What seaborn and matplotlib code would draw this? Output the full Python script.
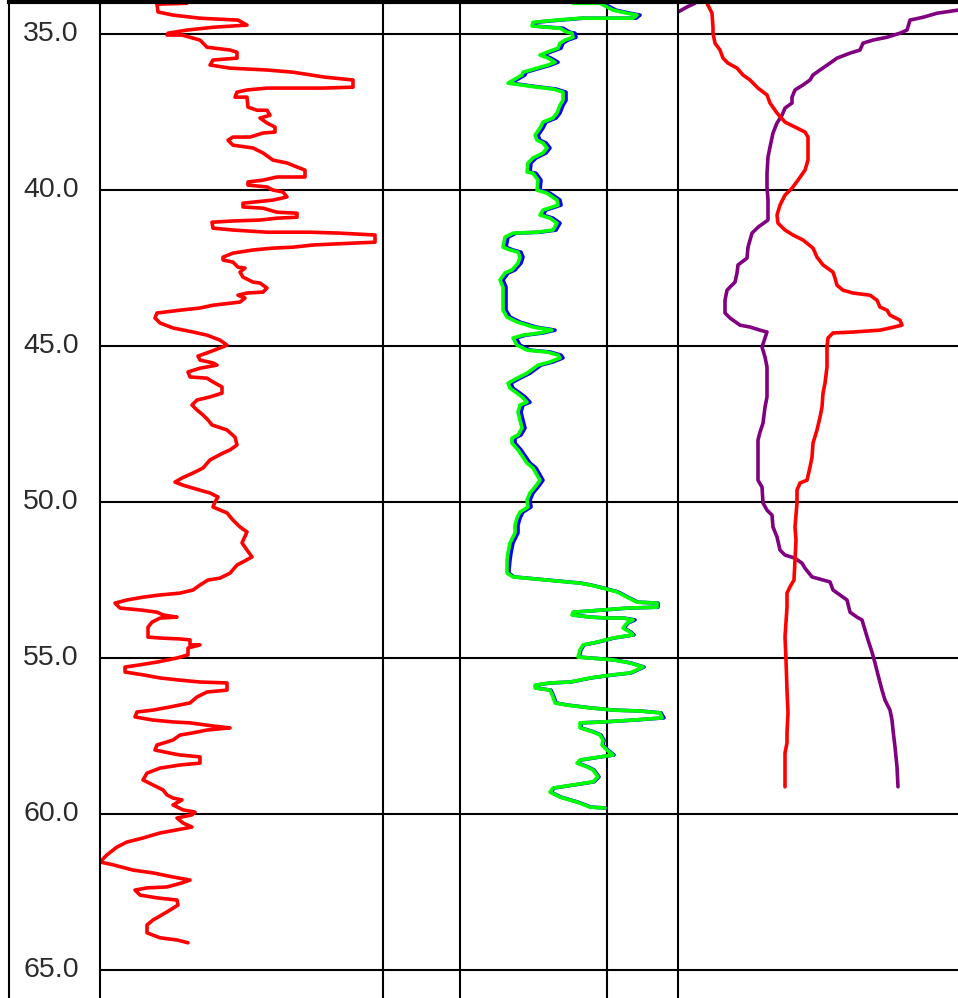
import matplotlib
matplotlib.use("Agg")
import matplotlib.pyplot as plt
import seaborn as sns
import pandas as pd

sns.set_style("white")
plt.rcParams['font.family'] = ['Liberation Sans', 'DejaVu Sans']

# ---------------- data ----------------
depth_ticks = [35.0, 40.0, 45.0, 50.0, 55.0, 60.0, 65.0]

# Track 1 : red curve
gr_depth = [34.01,34.04,34.29,34.39,34.49,34.55,34.71,34.78,34.87,34.97,
            35.03,35.03,35.19,35.42,35.51,35.58,35.77,35.83,35.99,36.09,
            36.15,36.22,36.38,36.47,36.70,36.73,36.73,36.79,36.86,37.02,
            37.02,37.34,37.44,37.44,37.60,37.69,37.85,37.98,38.14,38.17,
            38.30,38.30,38.40,38.56,38.65,38.81,39.04,39.13,39.26,39.36,
            39.58,39.58,39.68,39.74,39.84,39.90,40.00,40.06,40.22,40.32,
            40.38,40.42,40.54,40.58,40.71,40.74,40.87,40.90,40.96,40.99,
            41.03,41.22,41.28,41.35,41.35,41.38,41.44,41.67,41.70,41.76,
            41.83,41.86,41.92,42.02,42.15,42.24,42.31,42.47,42.50,42.63,
            42.79,42.95,42.98,43.14,43.27,43.30,43.37,43.46,43.59,43.69,
            43.78,43.85,43.94,44.10,44.26,44.42,44.55,44.65,44.81,44.97,
            45.06,45.22,45.32,45.45,45.54,45.61,45.71,45.83,45.99,46.03,
            46.15,46.31,46.51,46.63,46.73,46.89,47.05,47.21,47.37,47.53,
            47.69,47.92,48.17,48.33,48.43,48.65,48.91,49.07,49.23,49.36,
            49.46,49.62,49.71,49.84,50.00,50.16,50.35,50.58,50.80,50.96,
            51.31,51.54,51.76,51.92,52.02,52.28,52.44,52.50,52.66,52.82,
            52.92,52.98,53.05,53.14,53.24,53.40,53.46,53.53,53.62,53.69,
            53.72,53.85,54.01,54.33,54.36,54.39,54.42,54.58,54.58,54.68,
            54.90,55.00,55.13,55.22,55.29,55.45,55.54,55.64,55.71,55.77,
            55.80,56.03,56.09,56.25,56.44,56.57,56.67,56.73,56.89,56.99,
            57.05,57.08,57.18,57.24,57.31,57.40,57.47,57.63,57.79,57.95,
            58.05,58.11,58.17,58.37,58.43,58.53,58.69,58.91,59.07,59.23,
            59.39,59.49,59.55,59.71,59.87,59.94,60.03,60.13,60.29,60.42,
            60.51,60.61,60.77,60.90,61.06,61.31,61.54,61.63,61.80,61.89,
            62.02,62.12,62.21,62.34,62.37,62.44,62.60,62.69,62.76,62.92,
            63.14,63.40,63.56,63.81,63.97,64.04,64.13]
gr_value = [87,57,58,73,100,138,147,113,87,68,
            67,82,100,107,130,137,137,113,110,130,
            167,193,225,253,253,223,167,147,137,135,
            147,148,157,167,170,160,167,175,175,163,
            150,133,128,133,153,163,173,187,197,205,
            205,177,163,148,148,167,173,183,187,173,
            155,143,143,163,177,197,197,177,160,133,
            112,113,133,167,210,240,275,275,253,213,
            193,173,153,133,123,123,133,138,145,140,
            143,153,160,167,163,147,138,145,140,113,
            100,80,57,55,60,73,93,107,120,127,
            120,107,98,100,113,117,100,88,90,107,
            113,122,122,110,97,92,97,103,108,112,
            127,135,137,130,123,110,103,93,82,75,
            83,100,110,118,115,113,127,133,140,147,
            142,147,152,143,137,130,120,108,100,93,
            80,60,43,27,15,20,40,57,63,77,
            60,52,48,48,60,80,90,90,100,88,
            88,77,57,40,25,25,43,60,80,100,
            127,127,107,97,90,70,53,37,35,53,
            73,90,113,130,107,93,80,73,57,55,
            70,80,100,100,80,60,47,43,53,63,
            67,73,82,73,83,95,92,77,83,92,
            77,60,43,27,17,7,0,13,33,53,
            73,90,82,67,47,35,40,57,77,78,
            67,53,47,47,60,77,88]

# Track 2 : blue and green curves
t2_depth = [34.01,34.01,34.13,34.23,34.33,34.39,34.49,34.49,34.49,34.55,
            34.62,34.74,34.78,34.81,34.94,34.97,35.10,35.19,35.29,35.45,
            35.58,35.67,35.77,35.90,35.99,36.09,36.22,36.31,36.57,36.67,
            36.76,36.86,37.12,37.28,37.53,37.69,37.82,38.01,38.24,38.40,
            38.49,38.65,38.81,38.97,39.13,39.42,39.46,39.68,40.00,40.10,
            40.32,40.48,40.64,40.80,40.90,41.06,41.28,41.35,41.38,41.51,
            41.83,41.92,41.99,42.15,42.34,42.56,42.66,42.88,43.11,43.43,
            43.85,44.07,44.23,44.39,44.49,44.58,44.65,44.74,44.97,45.13,
            45.19,45.29,45.38,45.51,45.61,45.87,46.03,46.19,46.35,46.51,
            46.63,46.80,46.89,47.12,47.37,47.63,47.85,47.95,48.11,48.33,
            48.56,48.75,48.91,49.30,49.52,49.71,49.94,50.16,50.32,50.51,
            50.74,50.99,51.31,51.63,51.86,52.18,52.28,52.40,52.50,52.56,
            52.60,52.66,52.76,52.88,53.05,53.21,53.24,53.37,53.40,53.46,
            53.53,53.62,53.69,53.72,53.72,53.78,53.88,54.04,54.17,54.26,
            54.36,54.49,54.58,54.74,54.97,55.00,55.06,55.16,55.29,55.48,
            55.54,55.64,55.77,55.80,55.87,55.96,56.03,56.25,56.44,56.51,
            56.60,56.67,56.70,56.76,56.92,56.99,57.05,57.08,57.24,57.37,
            57.47,57.63,57.79,57.95,58.11,58.17,58.27,58.37,58.49,58.59,
            58.81,58.97,59.07,59.17,59.30,59.46,59.62,59.78,59.81]
green_value = [190,217,224,230,244,254,250,224,197,174,
               150,149,164,177,184,189,190,182,177,175,
               164,157,165,172,165,154,140,139,125,147,
               170,180,180,177,174,170,160,157,152,154,
               160,164,160,150,145,144,150,155,154,164,
               174,175,160,157,167,174,170,154,130,122,
               120,127,135,137,135,129,122,117,120,120,
               120,124,134,150,169,157,140,130,134,144,
               164,175,177,167,155,144,134,125,127,134,
               139,144,137,135,137,139,135,129,129,135,
               140,144,150,157,152,147,144,145,137,134,
               132,132,127,125,124,124,124,130,164,184,
               197,207,220,234,244,254,274,274,244,220,
               190,189,207,224,240,250,244,240,247,250,
               230,214,200,197,195,207,230,247,260,247,
               230,207,187,167,152,152,167,170,172,184,
               207,230,257,277,279,250,220,197,197,210,
               217,220,219,224,230,217,197,194,204,210,
               215,210,190,170,167,177,194,207,222]
blue_value = [192,220,227,233,247,257,253,227,200,177,
              153,152,167,180,187,192,193,185,180,178,
              167,160,168,175,168,157,143,142,128,150,
              173,183,183,180,177,173,163,160,155,157,
              163,167,163,153,148,147,153,158,157,167,
              177,178,163,160,170,177,173,157,133,125,
              123,130,138,140,138,132,125,120,123,123,
              123,127,137,153,172,160,143,133,137,147,
              167,178,180,170,158,147,137,128,130,137,
              142,147,140,138,140,142,138,132,132,138,
              143,147,153,160,155,150,147,148,140,137,
              135,135,130,128,127,126,126,131,165,185,
              198,208,221,235,245,255,275,275,245,221,
              191,190,208,225,241,252,245,241,248,251,
              231,215,201,198,196,208,231,248,261,248,
              231,208,188,168,153,153,168,171,173,185,
              208,231,258,278,281,251,221,198,198,211,
              218,221,220,225,231,218,198,195,205,211,
              216,211,191,171,168,178,195,208,223]

# Track 3 : red and purple curves
res_depth = [34.01,34.33,34.78,34.97,35.29,35.51,35.77,35.93,36.09,36.31,
             36.47,36.73,36.95,37.21,37.53,37.82,38.01,38.14,38.30,39.04,
             39.36,39.68,39.94,40.16,40.48,40.80,41.06,41.28,41.44,41.60,
             41.86,42.15,42.40,42.63,42.82,43.05,43.21,43.30,43.37,43.53,
             43.75,43.85,44.01,44.17,44.33,44.42,44.49,44.55,44.58,44.74,
             45.03,45.67,46.19,46.51,46.96,47.28,47.69,48.11,48.56,48.88,
             49.30,49.39,49.62,50.03,50.80,51.22,51.86,52.50,52.72,52.92,
             53.37,54.33,55.06,56.03,56.76,57.40,57.72,58.05,59.13]
res_value = [29,34,35,35,37,42,45,50,59,65,
             72,80,89,92,99,107,119,127,130,130,
             127,120,114,107,102,99,100,107,115,125,
             135,139,145,155,157,159,165,175,192,199,
             202,209,212,222,224,212,202,175,155,150,
             149,149,147,145,144,142,139,135,134,132,
             129,122,119,119,117,118,117,116,112,109,
             109,107,108,109,110,109,109,107,107]

pur_depth = [34.23,34.33,34.46,34.55,34.87,34.97,35.10,35.19,35.29,35.51,
             35.61,35.77,35.93,36.15,36.31,36.47,36.63,36.79,37.02,37.21,
             37.37,37.60,37.85,38.17,38.62,38.94,39.46,39.90,40.32,40.96,
             41.19,41.38,41.83,42.18,42.40,42.66,42.95,43.11,43.21,43.53,
             43.94,44.10,44.33,44.39,44.49,44.55,44.74,45.03,45.35,45.67,
             46.63,46.96,47.47,47.76,48.01,49.30,49.52,50.03,50.26,50.42,
             50.80,51.12,51.54,51.70,51.80,51.96,52.12,52.40,52.50,52.56,
             52.82,52.98,53.14,53.53,53.69,53.78,54.10,54.42,54.81,55.16,
             55.54,56.03,56.35,56.67,56.99,57.31,57.85,58.49,59.13]
pur_value = [280,259,245,232,229,222,209,195,185,182,
             172,159,152,142,135,132,125,117,114,114,
             107,104,99,95,92,90,89,89,90,90,
             80,74,70,69,60,59,57,52,49,47,
             47,52,62,72,82,89,87,84,87,89,
             89,87,85,82,80,80,84,85,89,94,
             95,99,102,107,117,124,127,134,145,152,
             155,162,169,172,179,184,187,190,194,197,
             200,204,207,212,214,215,217,219,220]
# wrapped (backup) portion of the purple curve at the top of track 3
pur_wrap_depth = [34.29, 34.13, 34.01]
pur_wrap_value = [0, 9, 17]

# ---------------- figure ----------------
W, H = 958, 998
fig = plt.figure(figsize=(W / 100, H / 100), dpi=100)
top_px = 2
hfrac = (H - top_px) / H
ylim = (65.90, 33.97)

def fx(px):
    return px / W

ax0 = fig.add_axes([fx(9), 0, fx(91), hfrac])
ax1 = fig.add_axes([fx(100), 0, fx(283), hfrac])
ax2 = fig.add_axes([fx(383), 0, fx(295), hfrac])
ax3 = fig.add_axes([fx(678), 0, fx(280), hfrac])

LW = 2.6
gr_df = pd.DataFrame({"depth": gr_depth, "v": gr_value})
sns.lineplot(data=gr_df, x="v", y="depth", orient="y", sort=False, estimator=None,
             color="#ff0000", lw=LW, ax=ax1)

t2_df = pd.DataFrame({"depth": t2_depth, "blue": blue_value, "green": green_value})
sns.lineplot(data=t2_df, x="blue", y="depth", orient="y", sort=False, estimator=None,
             color="#0000ff", lw=LW, ax=ax2)
sns.lineplot(data=t2_df, x="green", y="depth", orient="y", sort=False, estimator=None,
             color="#00ff00", lw=LW, ax=ax2)

res_df = pd.DataFrame({"depth": res_depth, "v": res_value})
pur_df = pd.DataFrame({"depth": pur_depth, "v": pur_value})
wrap_df = pd.DataFrame({"depth": pur_wrap_depth, "v": pur_wrap_value})
sns.lineplot(data=pur_df, x="v", y="depth", orient="y", sort=False, estimator=None,
             color="#800080", lw=LW, ax=ax3)
sns.lineplot(data=wrap_df, x="v", y="depth", orient="y", sort=False, estimator=None,
             color="#800080", lw=LW, ax=ax3)
sns.lineplot(data=res_df, x="v", y="depth", orient="y", sort=False, estimator=None,
             color="#ff0000", lw=LW, ax=ax3)

for ax, xmax in [(ax1, 283), (ax2, 295), (ax3, 280)]:
    ax.set_xlim(0, xmax)
    ax.set_ylim(*ylim)
    ax.set_yticks(depth_ticks)
    ax.yaxis.grid(True, color="black", lw=1.5, zorder=0)
    ax.set_xlabel("")
    ax.set_ylabel("")
    ax.tick_params(length=0, labelbottom=False, labelleft=False)
    for s in ("bottom", "right"):
        ax.spines[s].set_visible(False)
    ax.spines["left"].set_color("black")
    ax.spines["left"].set_linewidth(1.5)
    ax.spines["top"].set_color("black")
    ax.spines["top"].set_linewidth(3)
    ax.set_facecolor("white")

ax2.set_xticks([77, 224])
ax2.xaxis.grid(True, color="black", lw=1.5, zorder=0)
ax1.set_xticks([])
ax3.set_xticks([])

ax0.set_ylim(*ylim)
ax0.set_xlim(0, 1)
ax0.set_xticks([])
ax0.set_yticks([])
for s in ("bottom", "right"):
    ax0.spines[s].set_visible(False)
ax0.spines["left"].set_linewidth(1.5)
ax0.spines["left"].set_color("black")
ax0.spines["top"].set_linewidth(3)
ax0.spines["top"].set_color("black")
for d in depth_ticks:
    ax0.text(0.46, d, f"{d:.1f}", ha="center", va="center", fontsize=20.5,
             color="#2b2b2b", transform=ax0.get_yaxis_transform())

fig.savefig("out.png", dpi=100)
